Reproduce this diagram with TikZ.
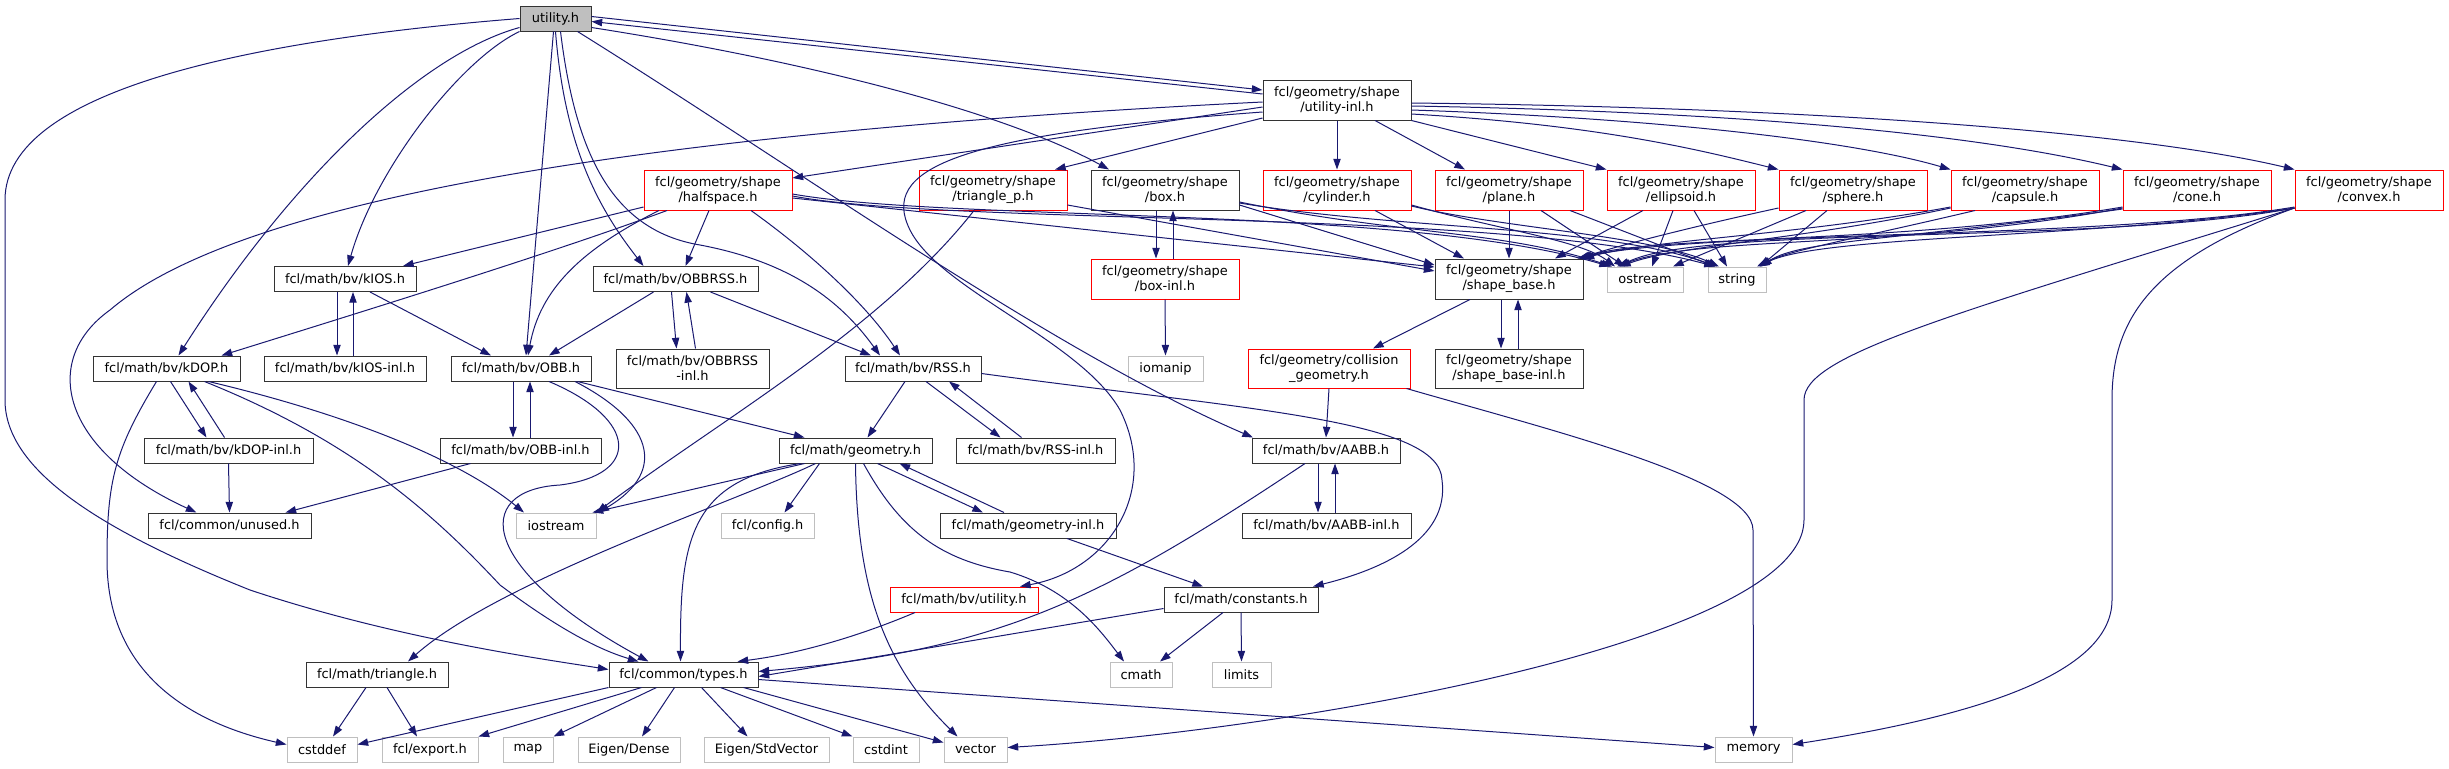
\documentclass[tikz,border=0pt]{standalone}
\usepackage{fontspec}
\setmainfont{DejaVu Sans}
\usepackage{tikz}
\usetikzlibrary{arrows.meta}
\definecolor{edgeblue}{HTML}{191970}
\definecolor{sysgray}{HTML}{BFBFBF}
\definecolor{nodered}{HTML}{FF0000}
\tikzstyle{node_file} = [rectangle, draw=black!80, line width=0.75pt, inner sep=0pt, minimum height=18.75pt, align=center, font=\fontsize{9.7}{11.3}\selectfont]
\tikzstyle{node_two} = [node_file, minimum height=30pt]
\tikzstyle{node_red} = [node_file, draw=nodered]
\tikzstyle{node_red_two} = [node_two, draw=nodered]
\tikzstyle{node_sys} = [node_file, draw=sysgray]
\tikzstyle{node_root} = [node_file, fill=sysgray]
\tikzstyle{edge_inc} = [edgeblue, line width=0.75pt, -{Triangle[length=8pt,width=5.5pt]}]

\begin{document}
\begin{tikzpicture}[x=0.75pt, y=-0.75pt]
\useasboundingbox (0,0) rectangle (2449,768);

% top
\node (U) at (555.5,18.5) [node_root, minimum width=53.25pt] {utility.h};
\node (UI) at (1337,100) [node_two, minimum width=111pt] {fcl/geometry/shape\\/utility-inl.h};

% shapes
\node (HS) at (718,190) [node_red_two, minimum width=111pt] {fcl/geometry/shape\\/halfspace.h};
\node (TP) at (993,190) [node_red_two, minimum width=111pt] {fcl/geometry/shape\\/triangle\_p.h};
\node (BX) at (1165,190) [node_two, minimum width=111pt] {fcl/geometry/shape\\/box.h};
\node (CY) at (1337,190) [node_red_two, minimum width=111pt] {fcl/geometry/shape\\/cylinder.h};
\node (PL) at (1509,190) [node_red_two, minimum width=111pt] {fcl/geometry/shape\\/plane.h};
\node (EL) at (1681,190) [node_red_two, minimum width=111pt] {fcl/geometry/shape\\/ellipsoid.h};
\node (SP) at (1853,190) [node_red_two, minimum width=111pt] {fcl/geometry/shape\\/sphere.h};
\node (CA) at (2025,190) [node_red_two, minimum width=111pt] {fcl/geometry/shape\\/capsule.h};
\node (CO) at (2197,190) [node_red_two, minimum width=111pt] {fcl/geometry/shape\\/cone.h};
\node (CV) at (2369,190) [node_red_two, minimum width=111pt] {fcl/geometry/shape\\/convex.h};

\node (KI) at (345,279) [node_file, minimum width=106.5pt] {fcl/math/bv/kIOS.h};
\node (OR) at (675.5,279) [node_file, minimum width=123.75pt] {fcl/math/bv/OBBRSS.h};
\node (BI) at (1165,279) [node_red_two, minimum width=111pt] {fcl/geometry/shape\\/box-inl.h};
\node (SB) at (1509,279) [node_two, minimum width=111pt] {fcl/geometry/shape\\/shape\_base.h};
\node (OS) at (1645,279.5) [node_sys, minimum width=57pt] {ostream};
\node (ST) at (1737,279.5) [node_sys, minimum width=43.5pt] {string};

\node (KD) at (166.5,368.5) [node_file, minimum width=110.25pt] {fcl/math/bv/kDOP.h};
\node (KII) at (345,368.5) [node_file, minimum width=121.5pt] {fcl/math/bv/kIOS-inl.h};
\node (OB) at (521,368.5) [node_file, minimum width=105pt] {fcl/math/bv/OBB.h};
\node (ORI) at (692.5,368.5) [node_two, minimum width=114.75pt, minimum height=29.25pt] {fcl/math/bv/OBBRSS\\-inl.h};
\node (RS) at (913,368.5) [node_file, minimum width=102pt] {fcl/math/bv/RSS.h};
\node (IM) at (1165.5,368.5) [node_sys, minimum width=56.25pt] {iomanip};
\node (CG) at (1329,368.5) [node_red_two, minimum width=121.5pt, minimum height=29.25pt] {fcl/geometry/collision\\\_geometry.h};
\node (SBI) at (1509,368.5) [node_two, minimum width=111pt, minimum height=29.25pt] {fcl/geometry/shape\\/shape\_base-inl.h};

\node (KDI) at (228.5,450.5) [node_file, minimum width=126.75pt] {fcl/math/bv/kDOP-inl.h};
\node (OBI) at (520.5,450.5) [node_file, minimum width=120.75pt] {fcl/math/bv/OBB-inl.h};
\node (GE) at (855.5,450.5) [node_file, minimum width=114.75pt] {fcl/math/geometry.h};
\node (RSI) at (1035.5,450.5) [node_file, minimum width=119.25pt] {fcl/math/bv/RSS-inl.h};
\node (AB) at (1326,450.5) [node_file, minimum width=111pt] {fcl/math/bv/AABB.h};

\node (UN) at (229.5,525.5) [node_file, minimum width=122.25pt] {fcl/common/unused.h};
\node (IO) at (556,525.5) [node_sys, minimum width=60pt] {iostream};
\node (CF) at (767.5,525.5) [node_sys, minimum width=69.75pt] {fcl/config.h};
\node (GI) at (1028,525.5) [node_file, minimum width=132pt] {fcl/math/geometry-inl.h};
\node (ABI) at (1326.5,525.5) [node_file, minimum width=126.75pt] {fcl/math/bv/AABB-inl.h};

\node (BU) at (964,599.5) [node_red, minimum width=111pt] {fcl/math/bv/utility.h};
\node (CN) at (1241,599.5) [node_file, minimum width=115.5pt] {fcl/math/constants.h};

\node (TR) at (377,674.5) [node_file, minimum width=106.5pt] {fcl/math/triangle.h};
\node (TY) at (683.5,674.5) [node_file, minimum width=111.75pt] {fcl/common/types.h};
\node (CM) at (1141,674.5) [node_sys, minimum width=46.5pt] {cmath};
\node (LI) at (1241.5,674.5) [node_sys, minimum width=44.25pt] {limits};

\node (CD) at (322,749.5) [node_sys, minimum width=52.5pt] {cstddef};
\node (EX) at (430,749.5) [node_sys, minimum width=72pt] {fcl/export.h};
\node (MP) at (528,749.5) [node_sys, minimum width=37.5pt] {map};
\node (ED) at (629,749.5) [node_sys, minimum width=76.5pt] {Eigen/Dense};
\node (SV) at (766.5,749.5) [node_sys, minimum width=93.75pt] {Eigen/StdVector};
\node (CI) at (886,749.5) [node_sys, minimum width=49.5pt] {cstdint};
\node (VE) at (975.5,749.5) [node_sys, minimum width=47.25pt] {vector};
\node (ME) at (1753.5,749.5) [node_sys, minimum width=57.75pt] {memory};

% utility.h
\draw[edge_inc] ([shift={(0,-2)}]U.east) -- ([shift={(0,-10)}]UI.west);
\draw[edge_inc] ([shift={(0,-6)}]UI.west) -- ([shift={(0,3)}]U.east);
\draw[edge_inc] (U.west) .. controls (250,40) and (5,90) .. (5,200) -- (5,400) .. controls (5,470) and (100,530) .. (250,590) .. controls (400,640) and (550,660) .. ([shift={(0,-5)}]TY.west);
\draw[edge_inc] ([shift={(0,9)}]U.west) .. controls (420,55) and (290,180) .. ([shift={(12,0)}]KD.north);
\draw[edge_inc] (U.south west) .. controls (460,60) and (375,170) .. ([shift={(3,0)}]KI.north);
\draw[edge_inc] ([shift={(-2,0)}]U.south) -- ([shift={(5,0)}]OB.north);
\draw[edge_inc] (U.south) .. controls (565,150) and (600,210) .. ([shift={(-32,0)}]OR.north);
\draw[edge_inc] ([shift={(5,0)}]U.south) .. controls (575,150) and (610,230) .. (700,245) .. controls (790,262) and (840,300) .. ([shift={(-33,0)}]RS.north);
\draw[edge_inc] ([shift={(0,9)}]U.east) .. controls (800,60) and (1000,110) .. ([shift={(-56,0)}]BX.north);
\draw[edge_inc] ([shift={(22,0)}]U.south) .. controls (800,170) and (1050,350) .. ([shift={(-73,0)}]AB.north);

% utility-inl.h
\draw[edge_inc] ([shift={(0,2)}]UI.west) .. controls (700,130) and (250,190) .. (110,310) .. controls (40,360) and (60,450) .. ([shift={(-33,0)}]UN.north);
\draw[edge_inc] ([shift={(0,7)}]UI.west) -- ([shift={(0,-12)}]HS.east);
\draw[edge_inc] ([shift={(0,12)}]UI.west) .. controls (950,135) and (880,170) .. (910,230) .. controls (940,290) and (1080,340) .. (1120,410) .. controls (1160,490) and (1110,570) .. ([shift={(56,0)}]BU.north);
\draw[edge_inc] ([shift={(0,18)}]UI.west) -- ([shift={(62,0)}]TP.north);
\draw[edge_inc] (UI.south) -- (CY.north);
\draw[edge_inc] ([shift={(38,0)}]UI.south) -- ([shift={(-44,0)}]PL.north);
\draw[edge_inc] (UI.south east) -- (EL.north west);
\draw[edge_inc] ([shift={(0,14)}]UI.east) .. controls (1600,125) and (1700,150) .. (SP.north west);
\draw[edge_inc] ([shift={(0,10)}]UI.east) .. controls (1650,118) and (1850,140) .. (CA.north west);
\draw[edge_inc] ([shift={(0,6)}]UI.east) .. controls (1750,112) and (1980,135) .. (CO.north west);
\draw[edge_inc] ([shift={(0,3)}]UI.east) .. controls (1850,108) and (2150,135) .. (CV.north west);

% halfspace.h
\draw[edge_inc] ([shift={(0,17)}]HS.west) -- ([shift={(58,0)}]KI.north);
\draw[edge_inc] ([shift={(-51,0)}]HS.south) .. controls (560,250) and (400,300) .. ([shift={(55,0)}]KD.north);
\draw[edge_inc] ([shift={(-59,0)}]HS.south) .. controls (580,250) and (540,290) .. ([shift={(7,0)}]OB.north);
\draw[edge_inc] ([shift={(-9,0)}]HS.south) -- ([shift={(10,0)}]OR.north);
\draw[edge_inc] ([shift={(33,0)}]HS.south) .. controls (820,260) and (870,310) .. ([shift={(-13,0)}]RS.north);
\draw[edge_inc] ([shift={(0,8)}]HS.east) -- ([shift={(0,-12)}]SB.west);
\draw[edge_inc] ([shift={(0,4)}]HS.east) .. controls (950,222) and (1400,205) .. ([shift={(-35,0)}]OS.north);
\draw[edge_inc] ([shift={(0,6)}]HS.east) .. controls (950,226) and (1500,208) .. ([shift={(-22,0)}]ST.north);

% triangle_p.h, box.h
\draw[edge_inc] ([shift={(0,15)}]TP.east) -- ([shift={(0,-8)}]SB.west);
\draw[edge_inc] ([shift={(-19,0)}]TP.south) .. controls (880,330) and (720,420) .. (IO.north east);
\draw[edge_inc] ([shift={(-9,0)}]BX.south) -- ([shift={(-9,0)}]BI.north);
\draw[edge_inc] ([shift={(8,0)}]BI.north) -- ([shift={(8,0)}]BX.south);
\draw[edge_inc] ([shift={(0,15)}]BX.east) -- ([shift={(0,-14)}]SB.west);
\draw[edge_inc] ([shift={(0,12)}]BX.east) .. controls (1400,235) and (1500,230) .. ([shift={(-33,0)}]OS.north);
\draw[edge_inc] ([shift={(0,13)}]BX.east) .. controls (1400,230) and (1600,225) .. ([shift={(-20,0)}]ST.north);
\draw[edge_inc] (BI.south) -- (IM.north);

% cylinder.h, plane.h, ellipsoid.h, sphere.h
\draw[edge_inc] ([shift={(38,0)}]CY.south) -- ([shift={(-45,0)}]SB.north);
\draw[edge_inc] ([shift={(0,15)}]CY.east) .. controls (1500,230) and (1580,240) .. ([shift={(-30,0)}]OS.north);
\draw[edge_inc] ([shift={(0,16)}]CY.east) .. controls (1500,228) and (1650,235) .. ([shift={(-18,0)}]ST.north);
\draw[edge_inc] (PL.south) -- (SB.north);
\draw[edge_inc] ([shift={(32,0)}]PL.south) -- ([shift={(-20,0)}]OS.north);
\draw[edge_inc] ([shift={(61,0)}]PL.south) -- ([shift={(-22,0)}]ST.north);
\draw[edge_inc] ([shift={(-38,0)}]EL.south) -- ([shift={(46,0)}]SB.north);
\draw[edge_inc] ([shift={(-8,0)}]EL.south) -- ([shift={(7,0)}]OS.north);
\draw[edge_inc] ([shift={(13,0)}]EL.south) -- ([shift={(-10,0)}]ST.north);
\draw[edge_inc] ([shift={(0,18)}]SP.west) .. controls (1700,225) and (1620,245) .. ([shift={(-4,0)}]SB.north east);
\draw[edge_inc] ([shift={(-47,0)}]SP.south) -- ([shift={(28,0)}]OS.north);
\draw[edge_inc] ([shift={(-26,0)}]SP.south) -- ([shift={(23,0)}]ST.north);

% capsule.h, cone.h, convex.h
\draw[edge_inc] ([shift={(0,17)}]CA.west) .. controls (1800,235) and (1650,240) .. (SB.north east);
\draw[edge_inc] ([shift={(0,18)}]CA.west) .. controls (1800,240) and (1680,245) .. ([shift={(-25,0)}]OS.north);
\draw[edge_inc] ([shift={(-50,0)}]CA.south) .. controls (1850,240) and (1790,250) .. ([shift={(20,0)}]ST.north);
\draw[edge_inc] ([shift={(0,17)}]CO.west) .. controls (1900,245) and (1650,235) .. ([shift={(-2,0)}]SB.north east);
\draw[edge_inc] ([shift={(0,18)}]CO.west) .. controls (1900,250) and (1700,235) .. ([shift={(-28,0)}]OS.north);
\draw[edge_inc] ([shift={(0,19)}]CO.west) .. controls (1900,240) and (1800,240) .. ([shift={(24,0)}]ST.north);
\draw[edge_inc] ([shift={(0,17)}]CV.west) .. controls (2100,240) and (1700,230) .. ([shift={(-6,0)}]SB.north east);
\draw[edge_inc] ([shift={(0,18)}]CV.west) .. controls (2100,245) and (1700,225) .. ([shift={(-26,0)}]OS.north);
\draw[edge_inc] ([shift={(0,18)}]CV.west) .. controls (2100,238) and (1820,235) .. ([shift={(22,0)}]ST.north);
\draw[edge_inc] ([shift={(0,18)}]CV.west) .. controls (1950,315) and (1804,355) .. (1804,400) -- (1804,520) .. controls (1804,640) and (1300,730) .. ([shift={(0,-2)}]VE.east);
\draw[edge_inc] ([shift={(0,18)}]CV.west) .. controls (2150,260) and (2112,320) .. (2112,400) -- (2112,600) .. controls (2112,680) and (1950,720) .. ([shift={(0,-5)}]ME.east);

% shape_base.h, collision_geometry.h
\draw[edge_inc] ([shift={(-39,0)}]SB.south) -- ([shift={(44,0)}]CG.north);
\draw[edge_inc] ([shift={(-8,0)}]SB.south) -- ([shift={(-8,0)}]SBI.north);
\draw[edge_inc] ([shift={(9,0)}]SBI.north) -- ([shift={(9,0)}]SB.south);
\draw[edge_inc] (CG.south) -- (AB.north);
\draw[edge_inc] ([shift={(-4,0)}]CG.south east) .. controls (1550,430) and (1753,480) .. (1753,530) -- (ME.north);

% kIOS.h, OBBRSS.h
\draw[edge_inc] ([shift={(-8,0)}]KI.south) -- ([shift={(-8,0)}]KII.north);
\draw[edge_inc] ([shift={(8,0)}]KII.north) -- ([shift={(8,0)}]KI.south);
\draw[edge_inc] ([shift={(25,0)}]KI.south) -- ([shift={(-30,0)}]OB.north);
\draw[edge_inc] ([shift={(-22,0)}]OR.south) -- ([shift={(28,0)}]OB.north);
\draw[edge_inc] ([shift={(-4,0)}]OR.south) -- ([shift={(-16,0)}]ORI.north);
\draw[edge_inc] ([shift={(3,0)}]ORI.north) -- ([shift={(11,0)}]OR.south);
\draw[edge_inc] ([shift={(35,0)}]OR.south) -- ([shift={(-42,0)}]RS.north);

% kDOP.h
\draw[edge_inc] ([shift={(4,0)}]KD.south) -- ([shift={(-22,0)}]KDI.north);
\draw[edge_inc] ([shift={(-4,0)}]KDI.north) -- ([shift={(22,0)}]KD.south);
\draw[edge_inc] ([shift={(-10,0)}]KD.south) .. controls (115,450) and (107,480) .. (107,560) .. controls (107,680) and (200,725) .. ([shift={(0,-5)}]CD.west);
\draw[edge_inc] ([shift={(38,0)}]KD.south) .. controls (350,440) and (430,510) .. (500,585) .. controls (560,630) and (600,650) .. ([shift={(-45,0)}]TY.north);
\draw[edge_inc] ([shift={(42,0)}]KD.south) .. controls (350,415) and (460,460) .. ([shift={(-32,0)}]IO.north);
\draw[edge_inc] (KDI.south) -- (UN.north);

% OBB.h
\draw[edge_inc] ([shift={(-8,0)}]OB.south) -- ([shift={(-7.5,0)}]OBI.north);
\draw[edge_inc] ([shift={(9.5,0)}]OBI.north) -- ([shift={(9,0)}]OB.south);
\draw[edge_inc] ([shift={(-14,0)}]OB.south east) -- ([shift={(-51,0)}]GE.north);
\draw[edge_inc] ([shift={(54,0)}]OB.south) .. controls (650,420) and (670,470) .. ([shift={(2,0)}]IO.north east);
\draw[edge_inc] ([shift={(28,0)}]OB.south) .. controls (640,420) and (640,475) .. (560,485) .. controls (470,490) and (480,570) .. ([shift={(-35,0)}]TY.north);
\draw[edge_inc] ([shift={(-50,0)}]OBI.south) -- ([shift={(56,0)}]UN.north);

% RSS.h
\draw[edge_inc] ([shift={(-8,0)}]RS.south) -- ([shift={(12,0)}]GE.north);
\draw[edge_inc] ([shift={(13,0)}]RS.south) -- ([shift={(-35,0)}]RSI.north);
\draw[edge_inc] ([shift={(-14,0)}]RSI.north) -- ([shift={(36,0)}]RS.south);
\draw[edge_inc] ([shift={(0,5)}]RS.east) .. controls (1250,410) and (1440,420) .. (1442,480) .. controls (1450,540) and (1380,570) .. ([shift={(72,0)}]CN.north);

% geometry.h
\draw[edge_inc] ([shift={(-51,0)}]GE.south) -- ([shift={(-4,0)}]IO.north east);
\draw[edge_inc] ([shift={(-36,0)}]GE.south) -- ([shift={(17,0)}]CF.north);
\draw[edge_inc] ([shift={(-40,0)}]GE.south) .. controls (740,500) and (500,580) .. ([shift={(31,0)}]TR.north);
\draw[edge_inc] ([shift={(-55,0)}]GE.south) .. controls (690,480) and (680,540) .. ([shift={(-3,0)}]TY.north);
\draw[edge_inc] (GE.south) .. controls (857,600) and (890,670) .. ([shift={(-18,0)}]VE.north);
\draw[edge_inc] ([shift={(8,0)}]GE.south) .. controls (900,530) and (940,560) .. (1010,572) .. controls (1070,590) and (1100,630) .. ([shift={(-17,0)}]CM.north);
\draw[edge_inc] ([shift={(22,0)}]GE.south) -- ([shift={(-45,0)}]GI.north);
\draw[edge_inc] ([shift={(-24,0)}]GI.north) -- ([shift={(44,0)}]GE.south);
\draw[edge_inc] ([shift={(39,0)}]GI.south) -- ([shift={(-38,0)}]CN.north);

% AABB.h, utility.h, constants.h
\draw[edge_inc] ([shift={(-8,0)}]AB.south) -- ([shift={(-8.5,0)}]ABI.north);
\draw[edge_inc] ([shift={(8.5,0)}]ABI.north) -- ([shift={(9,0)}]AB.south);
\draw[edge_inc] ([shift={(-21,0)}]AB.south) .. controls (1100,600) and (1000,650) .. ([shift={(0,-3)}]TY.east);
\draw[edge_inc] ([shift={(-49,0)}]BU.south) .. controls (850,640) and (790,655) .. ([shift={(54,0)}]TY.north);
\draw[edge_inc] ([shift={(0,9)}]CN.west) -- ([shift={(0,2)}]TY.east);
\draw[edge_inc] ([shift={(-18,0)}]CN.south) -- ([shift={(19,0)}]CM.north);
\draw[edge_inc] (CN.south) -- (LI.north);

% triangle.h, types.h
\draw[edge_inc] ([shift={(-11,0)}]TR.south) -- ([shift={(11,0)}]CD.north);
\draw[edge_inc] ([shift={(10,0)}]TR.south) -- ([shift={(-13,0)}]EX.north);
\draw[edge_inc] (TY.south west) -- ([shift={(0,-5)}]CD.east);
\draw[edge_inc] ([shift={(-42,0)}]TY.south) -- (EX.north east);
\draw[edge_inc] ([shift={(-27,0)}]TY.south) -- (MP.north east);
\draw[edge_inc] ([shift={(-9,0)}]TY.south) -- ([shift={(13,0)}]ED.north);
\draw[edge_inc] ([shift={(18,0)}]TY.south) -- ([shift={(-19,0)}]SV.north);
\draw[edge_inc] ([shift={(37,0)}]TY.south) -- (CI.north west);
\draw[edge_inc] ([shift={(60,0)}]TY.south) -- ([shift={(0,-7)}]VE.west);
\draw[edge_inc] ([shift={(0,5)}]TY.east) -- ([shift={(0,-2)}]ME.west);
\end{tikzpicture}
\end{document}
